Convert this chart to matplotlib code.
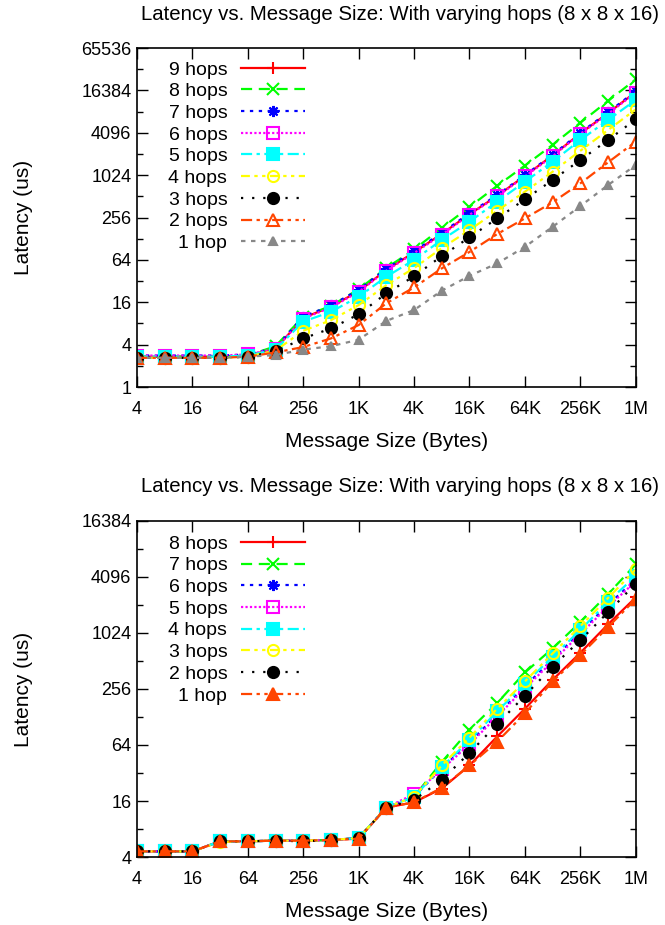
import matplotlib
matplotlib.use('Agg')
import matplotlib.pyplot as plt
from matplotlib.ticker import NullLocator, FixedLocator, NullFormatter

plt.rcParams['font.family'] = ['Liberation Sans', 'DejaVu Sans']

# Message sizes (bytes)
sizes = [4, 8, 16, 32, 64, 128, 256, 512, 1024, 2048, 4096, 8192, 16384,
         32768, 65536, 131072, 262144, 524288, 1048576]
xtick_vals = [4, 16, 64, 256, 1024, 4096, 16384, 65536, 262144, 1048576]
xtick_labels = ['4', '16', '64', '256', '1K', '4K', '16K', '64K', '256K', '1M']

# Top chart: latency (us)
top_hop9 = [2.7, 2.7, 2.7, 2.7, 2.8, 3.5, 9.6, 13.8, 23.0, 46, 82, 150, 285, 520, 1000, 1950, 4000, 7800, 15500]
top_hop8 = [2.7, 2.7, 2.7, 2.7, 2.8, 3.8, 10.0, 14.2, 24.5, 49, 90, 182, 362, 722, 1400, 2760, 5680, 11600, 23500]
top_hop7 = [2.8, 2.8, 2.8, 2.8, 2.9, 3.6, 10.0, 14.4, 24.0, 48, 85, 155, 295, 535, 1020, 2000, 4100, 8000, 16000]
top_hop6 = [2.8, 2.8, 2.8, 2.8, 2.9, 3.5, 9.4, 13.5, 22.5, 45, 80, 146, 280, 510, 980, 1900, 3950, 7600, 15200]
top_hop5 = [2.7, 2.7, 2.7, 2.7, 2.8, 3.4, 8.5, 11.7, 19.2, 37, 64, 123, 223, 430, 826, 1590, 3230, 6220, 11950]
top_hop4 = [2.6, 2.6, 2.6, 2.6, 2.7, 3.3, 6.3, 8.9, 14.6, 28, 49, 94, 170, 320, 596, 1145, 2270, 4480, 8800]
top_hop3 = [2.6, 2.6, 2.6, 2.6, 2.7, 3.2, 4.9, 6.8, 10.8, 21.4, 37.5, 72.5, 134, 249, 464, 873, 1680, 3230, 6350]
top_hop2 = [2.6, 2.6, 2.6, 2.6, 2.7, 3.1, 3.7, 4.9, 7.6, 15.5, 26, 48.5, 83, 149, 249, 421, 782, 1555, 3060]
top_hop1 = [2.6, 2.6, 2.6, 2.6, 2.7, 2.85, 3.4, 3.8, 4.7, 8.7, 12.4, 23.4, 38, 57, 98, 189, 372, 740, 1425]

# Bottom chart: latency (us)
bot_hop8 = [4.6, 4.6, 4.6, 5.9, 5.9, 6.0, 6.0, 6.1, 6.3, 13.6, 15.5, 21.8, 38.6, 79, 157, 321, 627, 1268, 2470]
bot_hop7 = [4.6, 4.6, 4.6, 5.9, 5.9, 6.0, 6.0, 6.1, 6.4, 13.6, 17.8, 42, 93, 181, 385, 699, 1340, 2680, 5600]
bot_hop6 = [4.6, 4.6, 4.6, 5.9, 5.9, 6.0, 6.0, 6.1, 6.4, 13.6, 17.8, 36, 68, 136, 274, 533, 1050, 2060, 3830]
bot_hop5 = [4.6, 4.6, 4.6, 5.9, 5.9, 6.0, 6.0, 6.1, 6.4, 13.6, 19.0, 35, 65, 130, 262, 505, 1000, 1960, 3680]
bot_hop4 = [4.6, 4.6, 4.6, 5.9, 5.9, 6.0, 6.0, 6.1, 6.4, 13.6, 17.8, 37, 72, 147, 292, 570, 1100, 2230, 4190]
bot_hop3 = [4.6, 4.6, 4.6, 5.8, 5.9, 6.0, 6.0, 6.1, 6.4, 13.6, 17.8, 38.6, 77, 157, 309, 617, 1210, 2430, 4930]
bot_hop2 = [4.6, 4.6, 4.6, 5.9, 5.9, 6.0, 5.9, 6.1, 6.4, 13.6, 16.4, 27, 52.6, 107, 217, 446, 856, 1710, 3480]
bot_hop1 = [4.6, 4.6, 4.6, 5.9, 5.9, 6.0, 6.0, 6.1, 6.3, 13.6, 15.5, 22.2, 38.6, 69.5, 140, 309, 592, 1185, 2370]

# gnuplot-like styles: (color, linestyle, marker, filled)
styles = [
    ('#ff0000', '-', '+', True),
    ('#00ff00', (0, (5, 3)), 'x', True),
    ('#0000ff', (0, (1.5, 2.5)), (8, 2, 0), True),
    ('#ff00ff', (0, (1, 1)), 's', False),
    ('#00ffff', (0, (5, 2, 1.5, 2)), 's', True),
    ('#ffff00', (0, (4, 2, 1.5, 2, 1.5, 2)), 'o', False),
    ('#000000', (0, (1, 4)), 'o', True),
    ('#ff4500', (0, (5, 2, 1.5, 2, 1.5, 2)), '^', False),
    ('#888888', (0, (2, 2.5)), '^', True),
]

fig = plt.figure(figsize=(6.65, 9.25), dpi=100)
title = 'Latency vs. Message Size: With varying hops (8 x 8 x 16)'


def draw(ax, series, labels, style_list, yticks, ylim, ax_h, leg_y):
    for vals, lab, st in zip(series, labels, style_list):
        color, ls, mk, filled = st
        ms = 8
        if mk == '^' and filled and color == '#888888':
            ms = 6
        ax.plot(sizes, vals, color=color, linestyle=ls, linewidth=1.6,
                marker=mk, markersize=ms, markeredgewidth=1.5,
                markerfacecolor=color if filled else 'none',
                markeredgecolor=color, label=lab)
    ax.set_xscale('log', base=2)
    ax.set_yscale('log', base=2)
    ax.set_xlim(4, 1048576)
    ax.set_ylim(*ylim)
    ax.xaxis.set_major_locator(FixedLocator(xtick_vals))
    ax.xaxis.set_minor_locator(NullLocator())
    ax.set_xticklabels(xtick_labels)
    ax.yaxis.set_major_locator(FixedLocator(yticks))
    ax.set_yticklabels([str(t) for t in yticks])
    minor = [t * 2 for t in yticks[:-1]]
    ax.yaxis.set_minor_locator(FixedLocator(minor))
    ax.yaxis.set_minor_formatter(NullFormatter())
    ax.tick_params(which='both', direction='in', top=True, right=True,
                   labelsize=13)
    ax.tick_params(axis='x', pad=10)
    ax.tick_params(axis='y', pad=4)
    ax.tick_params(which='major', length=8, width=1)
    ax.tick_params(which='minor', length=4, width=1)
    for s in ax.spines.values():
        s.set_linewidth(1.2)
    ax.set_xlabel('Message Size (Bytes)', fontsize=15)
    ax.xaxis.label.set_va('center')
    ax.xaxis.set_label_coords(0.5, -54 / ax_h)
    ax.set_ylabel('Latency (us)', fontsize=15)
    ax.yaxis.label.set_va('center')
    ax.yaxis.set_label_coords(-114 / 499, 0.5)
    leg = ax.legend(loc='upper right', bbox_to_anchor=(0.337, leg_y),
                    frameon=False, markerfirst=False, fontsize=14,
                    handlelength=3.3, handletextpad=0.7, labelspacing=0.21,
                    borderpad=0, borderaxespad=0)
    return leg


ax1 = fig.add_axes([0.206, 0.5816, 0.750, 0.3665])
draw(ax1,
     [top_hop9, top_hop8, top_hop7, top_hop6, top_hop5, top_hop4, top_hop3, top_hop2, top_hop1],
     ['9 hops', '8 hops', '7 hops', '6 hops', '5 hops', '4 hops', '3 hops', '2 hops', '1 hop'],
     styles,
     [1, 4, 16, 64, 256, 1024, 4096, 16384, 65536], (1, 65536), 339, 0.962)

bot_styles = styles[:7] + [('#ff4500', (0, (5, 2, 1.5, 2, 1.5, 2)), '^', True)]
ax2 = fig.add_axes([0.206, 0.0735, 0.750, 0.3633])
draw(ax2,
     [bot_hop8, bot_hop7, bot_hop6, bot_hop5, bot_hop4, bot_hop3, bot_hop2, bot_hop1],
     ['8 hops', '7 hops', '6 hops', '5 hops', '4 hops', '3 hops', '2 hops', '1 hop'],
     bot_styles,
     [4, 16, 64, 256, 1024, 4096, 16384], (4, 16384), 336, 0.958)

fig.text(400 / 665, 1 - 14 / 925, title, ha='center', va='center', fontsize=14.7)
fig.text(400 / 665, 1 - 487 / 925, title, ha='center', va='center', fontsize=14.7)

fig.savefig('out.png', dpi=100)
